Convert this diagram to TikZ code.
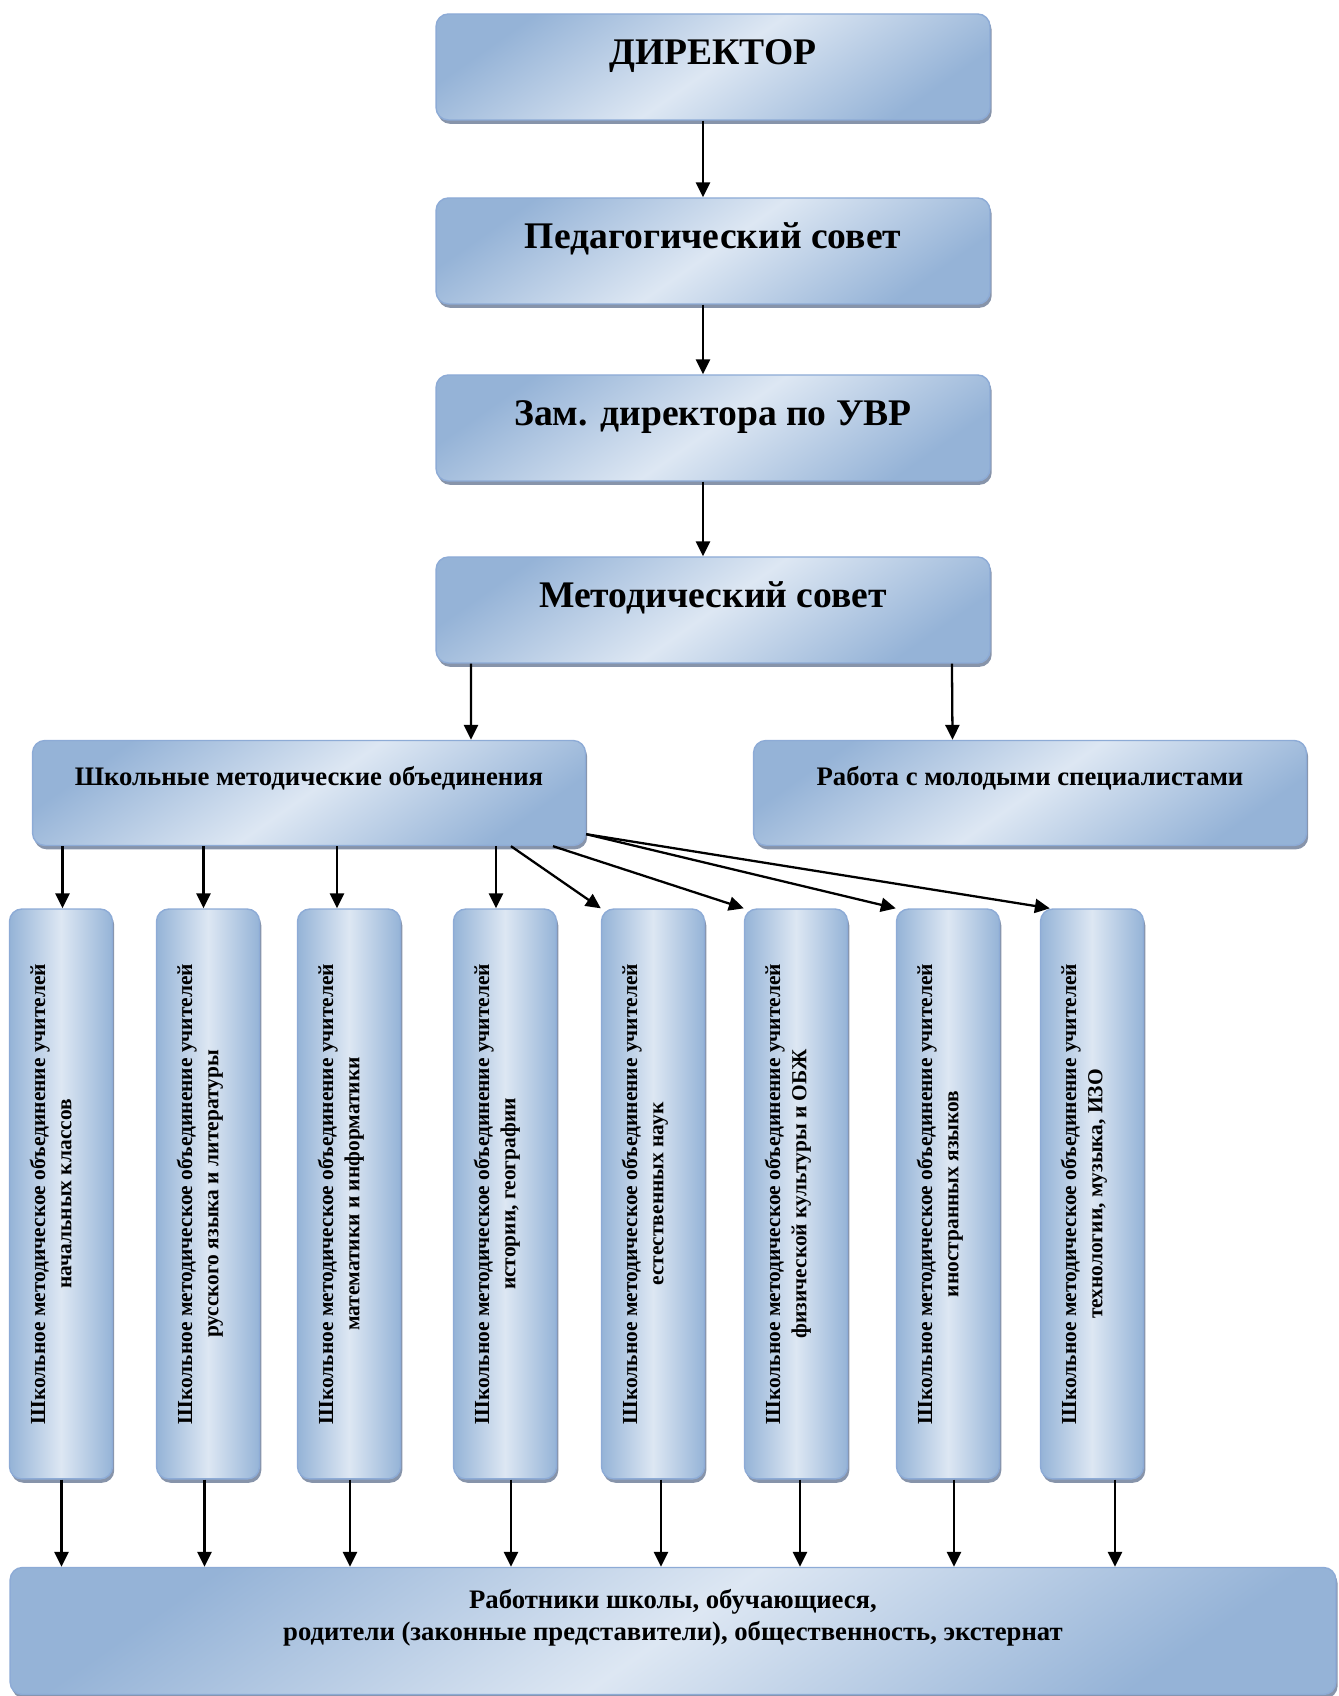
\documentclass[tikz,border=0pt]{standalone}
\usepackage{fontspec}
\setmainfont{Liberation Serif}
\usetikzlibrary{arrows.meta,shadows}

\definecolor{shmlight}{RGB}{221,231,243}
\definecolor{shmdark}{RGB}{149,179,215}
\definecolor{shmline}{RGB}{141,171,214}
\definecolor{shmshadow}{RGB}{135,148,170}

\begin{document}
\begin{tikzpicture}[x=0.02cm, y=0.02cm,
    box/.style={rectangle, rounded corners=7pt, draw=shmline, line width=0.8pt,
        drop shadow={shadow xshift=1pt, shadow yshift=-2.2pt, fill=shmshadow, opacity=1},
        top color=shmdark, bottom color=shmdark, middle color=shmlight, shading angle=35,
        align=center},
    topbox/.style={box, minimum width=11.08cm, minimum height=2.12cm,
        font=\fontsize{21.4}{25}\selectfont\bfseries, text height=15pt, text depth=18pt},
    midbox/.style={box, minimum width=11.06cm, minimum height=2.1cm,
        font=\fontsize{15.2}{18}\selectfont\bfseries, text height=12pt, text depth=21pt},
    colbox/.style={box, left color=shmdark, right color=shmdark, middle color=shmlight,
        minimum width=2.06cm, minimum height=11.4cm,
        font=\fontsize{12.2}{15}\selectfont\bfseries},
    botbox/.style={box, minimum width=26.52cm, minimum height=2.54cm,
        font=\fontsize{15.2}{18}\selectfont\bfseries, text height=29pt, text depth=18.6pt},
    arr/.style={-{Triangle[length=8.5pt,width=8pt]}, line width=1.3pt}]

    \useasboundingbox (0,0) rectangle (1338,1696);

    % management chain
    \node[topbox] (dir) at (713,1629) {ДИРЕКТОР};
    \node[topbox] (ped) at (713,1445) {Педагогический совет};
    \node[topbox] (zam) at (713,1268) {Зам. директора по УВР};
    \node[topbox] (met) at (713,1086) {Методический совет};

    \node[midbox] (shmo) at (309,903) {Школьные методические объединения};
    \node[midbox] (rab) at (1030,903) {Работа с молодыми специалистами};

    % subject groups
    \foreach \i/\x/\txt in {1/61/{начальных классов}, 2/208/{русского языка и литературы},
        3/349/{математики и информатики}, 4/505/{истории, географии},
        5/653/{естественных наук}, 6/796/{физической культуры и ОБЖ},
        7/948/{иностранных языков}, 8/1092/{технологии, музыка, ИЗО}}
        \node[colbox] (c\i) at (\x,502) {\rotatebox{90}{\begin{tabular}{@{}c@{}}Школьное методическое объединение учителей\\ \txt\end{tabular}}\hspace*{0.32cm}};

    \node[botbox] (bot) at (673,65) {Работники школы, обучающиеся,\\родители (законные представители), общественность, экстернат};

    \draw[arr] ([xshift=-0.2cm]dir.south) -- ([xshift=-0.2cm]ped.north);
    \draw[arr] ([xshift=-0.2cm]ped.south) -- ([xshift=-0.2cm]zam.north);
    \draw[arr] ([xshift=-0.2cm]zam.south) -- ([xshift=-0.2cm]met.north);
    \draw[arr] ([xshift=-4.84cm]met.south) -- ([xshift=3.24cm]shmo.north);
    \draw[arr] ([xshift=4.78cm]met.south) -- ([xshift=-1.55cm]rab.north);

    \foreach \i/\dx in {1/0.03cm,2/-0.09cm,3/-0.24cm,4/-0.18cm}
        \draw[arr] ([xshift=\dx]c\i.north |- shmo.south) -- ([xshift=\dx]c\i.north);
    \draw[arr] ([xshift=4.04cm]shmo.south) -- (c5.north west);
    \draw[arr] ([xshift=4.88cm]shmo.south) -- (c6.north west);
    \draw[arr] ([yshift=0.24cm]shmo.south east) -- (c7.north west);
    \draw[arr] ([yshift=0.24cm]shmo.south east) -- ([xshift=0.2cm]c8.north west);

    \foreach \i/\dx in {1/0.01cm,2/-0.07cm,3/0.02cm,4/0.12cm,5/0.16cm,6/0.08cm,7/0.12cm,8/0.46cm}
        \draw[arr] ([xshift=\dx]c\i.south) -- ([xshift=\dx]c\i.south |- bot.north);
\end{tikzpicture}
\end{document}
